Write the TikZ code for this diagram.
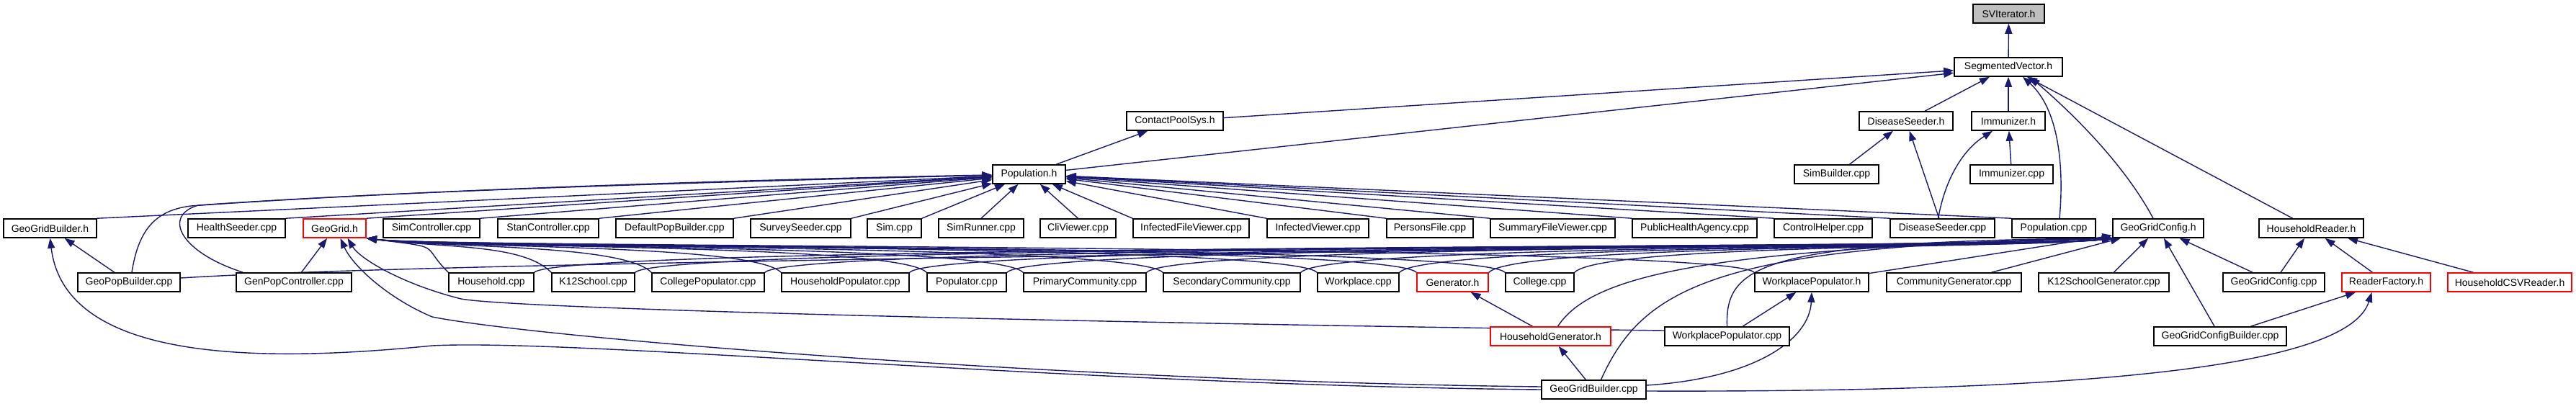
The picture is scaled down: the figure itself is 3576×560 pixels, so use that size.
\documentclass[tikz,border=0pt]{standalone}
\usepackage{fontspec}
\setmainfont{Liberation Sans}
\usetikzlibrary{arrows.meta,backgrounds}
\definecolor{edgeblue}{HTML}{191970}
\definecolor{rootgray}{HTML}{BFBFBF}
\tikzset{
  box/.style={draw=black, line width=1.6pt, fill=white, minimum height=26pt, inner sep=0pt, font=\fontsize{14pt}{16pt}\selectfont},
  redbox/.style={box, draw=red},
  rootbox/.style={box, fill=rootgray},
  edge/.style={draw=edgeblue, line width=1.4pt, -{Triangle[length=14pt,width=10pt]}},
}
\begin{document}
\begin{tikzpicture}[x=1pt,y=-1pt]
\useasboundingbox (0,0) rectangle (3576,560);
% row 0
\node[rootbox, minimum width=99pt] (svit) at (2788.5,19) {SVIterator.h};
% row 1
\node[box, minimum width=150pt] (segv) at (2788,93) {SegmentedVector.h};
% row 2
\node[box, minimum width=134pt] (cps) at (1631,168) {ContactPoolSys.h};
\node[box, minimum width=130pt] (dsh) at (2646,168) {DiseaseSeeder.h};
\node[box, minimum width=102pt] (imh) at (2788,168) {Immunizer.h};
% row 3
\node[box, minimum width=101pt] (poph) at (1428.5,242) {Population.h};
\node[box, minimum width=117pt] (simb) at (2549.5,242) {SimBuilder.cpp};
\node[box, minimum width=115pt] (imcpp) at (2792.5,242) {Immunizer.cpp};
% row 4
\node[box, minimum width=129pt] (ggbh) at (69.5,317) {GeoGridBuilder.h};
\node[box, minimum width=135pt] (hs) at (328.5,317) {HealthSeeder.cpp};
\node[redbox, minimum width=87pt] (gg) at (464.5,317) {GeoGrid.h};
\node[box, minimum width=134pt] (simc) at (599,317) {SimController.cpp};
\node[box, minimum width=140pt] (stan) at (761,317) {StanController.cpp};
\node[box, minimum width=163pt] (dpb) at (936.5,317) {DefaultPopBuilder.cpp};
\node[box, minimum width=139pt] (ss) at (1111.5,317) {SurveySeeder.cpp};
\node[box, minimum width=75pt] (sim) at (1241.5,317) {Sim.cpp};
\node[box, minimum width=118pt] (simr) at (1362,317) {SimRunner.cpp};
\node[box, minimum width=105pt] (cli) at (1496.5,317) {CliViewer.cpp};
\node[box, minimum width=161pt] (ifv) at (1653.5,317) {InfectedFileViewer.cpp};
\node[box, minimum width=141pt] (iv) at (1829.5,317) {InfectedViewer.cpp};
\node[box, minimum width=120pt] (pf) at (1985,317) {PersonsFile.cpp};
\node[box, minimum width=173pt] (sfv) at (2155.5,317) {SummaryFileViewer.cpp};
\node[box, minimum width=173pt] (pha) at (2352.5,317) {PublicHealthAgency.cpp};
\node[box, minimum width=136pt] (ch) at (2531,317) {ControlHelper.cpp};
\node[box, minimum width=145pt] (dscpp) at (2696.5,317) {DiseaseSeeder.cpp};
\node[box, minimum width=116pt] (popcpp) at (2851,317) {Population.cpp};
\node[box, minimum width=126pt] (ggch) at (2996,317) {GeoGridConfig.h};
\node[box, minimum width=145pt] (hrh) at (3208.5,317) {HouseholdReader.h};
% row 5
\node[box, minimum width=142pt] (gpb) at (179,392) {GeoPopBuilder.cpp};
\node[box, minimum width=160pt] (gpc) at (408,392) {GenPopController.cpp};
\node[box, minimum width=118pt] (hh) at (682,392) {Household.cpp};
\node[box, minimum width=115pt] (k12) at (823.5,392) {K12School.cpp};
\node[box, minimum width=156pt] (colp) at (983,392) {CollegePopulator.cpp};
\node[box, minimum width=177pt] (hhp) at (1173.5,392) {HouseholdPopulator.cpp};
\node[box, minimum width=110pt] (pop) at (1342,392) {Populator.cpp};
\node[box, minimum width=170pt] (pc) at (1506,392) {PrimaryCommunity.cpp};
\node[box, minimum width=190pt] (sc) at (1710,392) {SecondaryCommunity.cpp};
\node[box, minimum width=113pt] (wp) at (1885.5,392) {Workplace.cpp};
\node[redbox, minimum width=99pt] (gen) at (2016.5,392) {Generator.h};
\node[box, minimum width=95pt] (col) at (2137.5,392) {College.cpp};
\node[box, minimum width=158pt] (wph) at (2515,392) {WorkplacePopulator.h};
\node[box, minimum width=187pt] (cg) at (2712.5,392) {CommunityGenerator.cpp};
\node[box, minimum width=181pt] (k12g) at (2920.5,392) {K12SchoolGenerator.cpp};
\node[box, minimum width=141pt] (ggcc) at (3156.5,392) {GeoGridConfig.cpp};
\node[redbox, minimum width=123pt] (rf) at (3312.5,392) {ReaderFactory.h};
\node[redbox, minimum width=172pt] (hcsv) at (3484,392) {HouseholdCSVReader.h};
% row 6
\node[redbox, minimum width=167pt] (hgh) at (2152.5,467) {HouseholdGenerator.h};
\node[box, minimum width=173pt] (wpc) at (2397.5,467) {WorkplacePopulator.cpp};
\node[box, minimum width=184pt] (ggcb) at (3082,467) {GeoGridConfigBuilder.cpp};
% row 7
\node[box, minimum width=145pt] (ggb) at (2212.5,541) {GeoGridBuilder.cpp};

\begin{scope}[on background layer]
\fill[white] (0,0) rectangle (3576,560);
% top part
\draw[edge] (segv) -- (svit);
\draw[edge] (cps) -- (segv);
\draw[edge] (poph) -- (segv);
\draw[edge] (dsh) -- (segv);
\draw[edge] (imh) -- (segv);
\draw[edge] ([xshift=8pt]popcpp.north) .. controls (2866,225) and (2856,150) .. ([xshift=20pt]segv.south);
\draw[edge] ([xshift=-7pt]ggch.north) .. controls (2950,230) and (2880,160) .. ([xshift=30pt]segv.south);
\draw[edge] (hrh) -- (segv);
\draw[edge] (poph) -- (cps);
\draw[edge] (simb) -- (dsh);
\draw[edge] (dscpp) -- (dsh);
\draw[edge] (imcpp) -- (imh);
\draw[edge] ([xshift=-6pt]dscpp.north) .. controls (2702,240) and (2730,205) .. ([xshift=-22pt]imh.south);
% into Population.h
\foreach \nd in {ggbh,hs,gg,simc,stan,dpb,ss,sim} \draw[edge] (\nd.north east) -- (poph);
\draw[edge] (simr.north) -- (poph);
\draw[edge] (cli.north) -- (poph);
\foreach \nd in {ifv,iv,pf,sfv,pha,ch,dscpp,popcpp} \draw[edge] (\nd.north west) -- (poph);
\draw[edge] ([xshift=4pt]gpb.north) .. controls (192,320) and (215,292) .. (265,286) .. controls (600,262) and (1100,248) .. (poph);
\draw[edge] ([xshift=10pt]gpc.north west) .. controls (250,350) and (225,300) .. (275,285) .. controls (600,262) and (1100,250) .. (poph);
% GeoGridBuilder.h
\draw[edge] (gpb) -- (ggbh);
\draw[edge] (ggb.west) .. controls (1500,535) and (800,470) .. (600,480) .. controls (350,505) and (90,500) .. (ggbh.south);
% GeoGrid.h
\draw[edge] (gpc) -- (gg);
\foreach \nd in {hh,k12,colp,hhp,pop,pc,sc,wp,gen,col,wph}
  \draw[edge] (\nd.north west) .. controls +(-40,-40) and +(110,14) .. (gg.south east);
\draw[edge] ([yshift=8pt]wpc.west) .. controls (1600,450) and (720,430) .. (640,415) .. controls (560,395) and (500,360) .. ([xshift=18pt]gg.south);
\draw[edge] ([yshift=4pt]ggb.west) .. controls (1500,530) and (750,470) .. (600,440) .. controls (540,415) and (490,370) .. ([xshift=8pt]gg.south);
% GeoGridConfig.h
\foreach \nd in {hh,k12,colp,hhp,pop,pc,sc,wp,gen,col}
  \draw[edge] (\nd.north east) .. controls +(40,-40) and +(-110,14) .. (ggch.south west);
\draw[edge] ([yshift=6pt]gpb.east) .. controls (700,358) and (2600,345) .. (ggch.south west);
\draw[edge] (wph) -- (ggch);
\draw[edge] (cg) -- (ggch);
\draw[edge] (k12g) -- (ggch);
\draw[edge] (ggcc) -- (ggch);
\draw[edge] (ggcb) -- (ggch);
\draw[edge] ([xshift=10pt]hgh.north) .. controls (2210,380) and (2380,345) .. (ggch.south west);
\draw[edge] ([xshift=10pt]ggb.north) .. controls (2280,400) and (2380,340) .. (ggch.south west);
\draw[edge] (wpc.north) .. controls (2395,370) and (2440,335) .. (ggch.south west);
% HouseholdReader.h
\draw[edge] (ggcc) -- (hrh);
\draw[edge] (rf) -- (hrh);
\draw[edge] (hcsv) -- (hrh);
% lower part
\draw[edge] (hgh) -- (gen);
\draw[edge] (ggb) -- (hgh);
\draw[edge] (wpc) -- (wph);
\draw[edge] ([yshift=6pt]ggb.east) .. controls (2440,525) and (2512,470) .. (wph.south);
\draw[edge] ([yshift=-2pt]ggb.east) .. controls (2900,545) and (3260,510) .. ([xshift=-20pt]rf.south);
\draw[edge] (ggcb) -- (rf);
\end{scope}
\end{tikzpicture}
\end{document}
